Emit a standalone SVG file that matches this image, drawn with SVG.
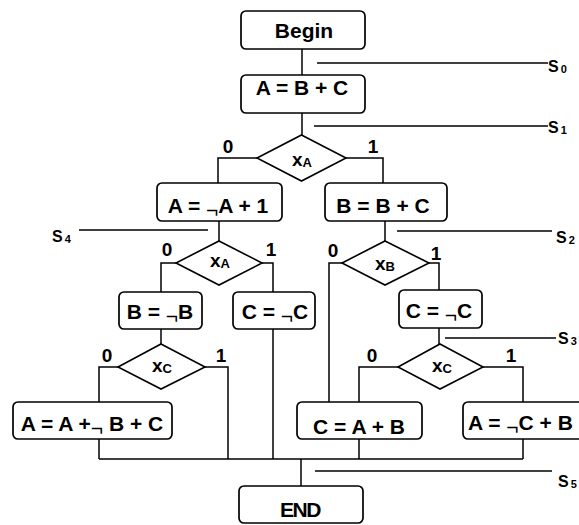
<svg xmlns="http://www.w3.org/2000/svg" width="579" height="525" viewBox="0 0 579 525">
<style>
.box{fill:#fff;stroke:#000;stroke-width:1.7}
.dia{fill:#fff;stroke:#000;stroke-width:1.6}
.ln{fill:none;stroke:#000;stroke-width:1.5}
text{font-family:"Liberation Sans",Arial,sans-serif;font-weight:bold;fill:#000}
.t{font-size:21px;text-anchor:middle}
.ts{font-size:21px;text-anchor:start}
.v{font-size:19px;text-anchor:middle}
.lb{font-size:19px;text-anchor:middle}
.s{font-size:16px}
.neg{font-weight:normal}
</style>
<rect width="579" height="525" fill="#fff"/>
<g id="connectors" class="ln">
<path d="M302,49V75"/>
<path d="M302,113V135"/>
<path d="M257,158H218V183"/>
<path d="M346,158H383V183"/>
<path d="M219,221V241"/>
<path d="M176,263H161V292"/>
<path d="M262,263H273V292"/>
<path d="M161,329V344"/>
<path d="M118,367H99V402"/>
<path d="M205,367H228V459"/>
<path d="M273,329V459"/>
<path d="M99,439V459"/>
<path d="M99,459H523"/>
<path d="M301,459V486"/>
<path d="M385,221V241"/>
<path d="M342,263H329V402"/>
<path d="M429,263H439V290"/>
<path d="M439,328V344"/>
<path d="M398,367H359V402"/>
<path d="M483,367H523V402"/>
<path d="M359,439V459"/>
<path d="M523,439V459"/>
<path d="M317,63H548"/>
<path d="M314,126H548"/>
<path d="M397,231H552"/>
<path d="M445,338H556"/>
<path d="M79,230H208"/>
<path d="M315,471H552"/>
</g>
<g id="n-begin"><rect class="box" x="241" y="11" width="124" height="38" rx="5"/><text class="t" x="304" y="38">Begin</text></g>
<g id="n-abc"><rect class="box" x="241" y="75" width="124" height="38" rx="5"/><text class="t" x="302" y="95">A = B + C</text></g>
<g id="d-xa1"><polygon class="dia" points="301.5,135 346,158 301.5,181 257,158"/><text class="v" x="302" y="166">x<tspan font-size="13" dy="1">A</tspan></text></g>
<g id="n-negA"><rect class="box" x="157" y="183" width="125" height="38" rx="5"/><text class="t" x="218" y="213">A = <tspan class="neg" dy="4">¬</tspan><tspan dy="-4">A + 1</tspan></text></g>
<g id="n-bbc"><rect class="box" x="325" y="183" width="122" height="38" rx="5"/><text class="t" x="383" y="213">B = B + C</text></g>
<g id="d-xa2"><polygon class="dia" points="219,241 262,263 219,285 176,263"/><text class="v" x="220" y="267">x<tspan font-size="13" dy="1">A</tspan></text></g>
<g id="d-xb"><polygon class="dia" points="385,241 429,263 385,285 342,263"/><text class="v" x="385" y="270">x<tspan font-size="13" dy="1">B</tspan></text></g>
<g id="n-negB"><rect class="box" x="119" y="292" width="83" height="37" rx="5"/><text class="t" x="160" y="319">B = <tspan class="neg" dy="4">¬</tspan><tspan dy="-4">B</tspan></text></g>
<g id="n-negC1"><rect class="box" x="233" y="292" width="82" height="37" rx="5"/><text class="t" x="275" y="319">C = <tspan class="neg" dy="4">¬</tspan><tspan dy="-4">C</tspan></text></g>
<g id="n-negC2"><rect class="box" x="399" y="290" width="83" height="38" rx="5"/><text class="t" x="439" y="318">C = <tspan class="neg" dy="4">¬</tspan><tspan dy="-4">C</tspan></text></g>
<g id="d-xc1"><polygon class="dia" points="161,344 205,367 161,389 118,367"/><text class="v" x="162" y="372">x<tspan font-size="13" dy="1">C</tspan></text></g>
<g id="d-xc2"><polygon class="dia" points="440,344 483,367 440,389 398,367"/><text class="v" x="442" y="372">x<tspan font-size="13" dy="1">C</tspan></text></g>
<g id="n-aabc"><rect class="box" x="13" y="402" width="159" height="37" rx="5"/><text class="t" x="92" y="431">A = A +<tspan class="neg" dy="4">¬</tspan><tspan dy="-4"> B + C</tspan></text></g>
<g id="n-cab"><rect class="box" x="297" y="402" width="125" height="37" rx="5"/><text class="t" x="359" y="434">C = A + B</text></g>
<g id="n-acb"><rect class="box" x="463" y="402" width="130" height="37" rx="5"/><text class="ts" x="468" y="430">A = <tspan class="neg" dy="4">¬</tspan><tspan dy="-4">C + B</tspan></text></g>
<g id="n-end"><rect class="box" x="239" y="486" width="124" height="37" rx="5"/><text class="t" x="300" y="517" letter-spacing="-1.5">END</text></g>
<g id="labels">
<text class="lb" x="228" y="153">0</text><text class="lb" x="373" y="153">1</text>
<text class="lb" x="167" y="256">0</text><text class="lb" x="271" y="256">1</text>
<text class="lb" x="333" y="257">0</text><text class="lb" x="436" y="260">1</text>
<text class="lb" x="107" y="362">0</text><text class="lb" x="221" y="362">1</text>
<text class="lb" x="372" y="362">0</text><text class="lb" x="511" y="362">1</text>
<text class="s" x="548" y="72">S<tspan font-size="11" dx="2" dy="1">0</tspan></text>
<text class="s" x="548" y="133">S<tspan font-size="11" dx="2" dy="1">1</tspan></text>
<text class="s" x="556" y="243">S<tspan font-size="11" dx="2" dy="1">2</tspan></text>
<text class="s" x="558" y="344">S<tspan font-size="11" dx="2" dy="1">3</tspan></text>
<text class="s" x="52" y="242">S<tspan font-size="11" dx="2" dy="1">4</tspan></text>
<text class="s" x="558" y="487">S<tspan font-size="11" dx="2" dy="1">5</tspan></text>
</g>
</svg>
